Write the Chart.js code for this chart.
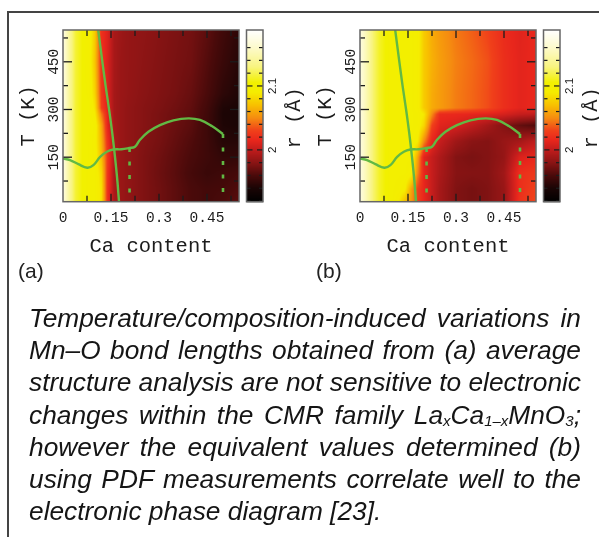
<!DOCTYPE html>
<html><head><meta charset="utf-8">
<script src="https://cdn.jsdelivr.net/npm/chart.js@4"></script>
<style>
html,body{margin:0;padding:0;background:#fff;width:599px;height:537px;overflow:hidden}
#page{position:relative;width:599px;height:537px;overflow:hidden;filter:blur(.4px)}
canvas{position:absolute}
#top{position:absolute;left:7px;top:11px;width:592px;height:2px;background:#444}
#lft{position:absolute;left:7px;top:11px;width:2px;height:526px;background:#444}
.tag{position:absolute;font:21px "Liberation Sans";color:#222}
#cap{position:absolute;left:29px;top:302px;width:552px;font:italic 26.3px/32.2px "Liberation Sans";color:#151515}
#cap div{white-space:nowrap}
sub{font-size:15px;line-height:0;vertical-align:-2px}
</style></head><body><div id="page">
<div id="top"></div><div id="lft"></div>
<canvas id="a" style="left:0;top:12px"></canvas>
<canvas id="ca" style="left:240px;top:12px"></canvas>
<canvas id="b" style="left:297px;top:12px"></canvas>
<canvas id="cb" style="left:537px;top:12px"></canvas>
<div class="tag" style="left:18px;top:259px">(a)</div>
<div class="tag" style="left:316px;top:259px">(b)</div>
<div id="cap">
<div class="fit"><span>Temperature/composition-induced variations in</span></div>
<div class="fit"><span>Mn–O bond lengths obtained from (a) average</span></div>
<div class="fit"><span>structure analysis are not sensitive to electronic</span></div>
<div class="fit"><span>changes within the CMR family La<sub>x</sub>Ca<sub>1–x</sub>MnO<sub>3</sub>;</span></div>
<div class="fit"><span>however the equivalent values determined (b)</span></div>
<div class="fit"><span>using PDF measurements correlate well to the</span></div>
<div><span>electronic phase diagram [23].</span></div>
</div>
</div>
<script>
const caContent=[0,0.02,0.04,0.06,0.08,0.1,0.12,0.14,0.16,0.18,0.2,0.225,0.25,0.3,0.35,0.4,0.45,0.5,0.55];
const temperature=[10,50,100,150,200,250,285,305,350,450,550];
const bondA=[
[2.17,2.14,2.115,2.105,2.102,2.100,2.085,2.020,1.992,1.986,1.983,1.980,1.977,1.972,1.966,1.960,1.957,1.960,1.965],
[2.17,2.14,2.115,2.105,2.102,2.100,2.085,2.020,1.992,1.986,1.983,1.980,1.977,1.972,1.966,1.960,1.957,1.958,1.962],
[2.17,2.14,2.115,2.105,2.102,2.100,2.080,2.022,1.992,1.986,1.983,1.980,1.977,1.971,1.965,1.958,1.953,1.955,1.958],
[2.17,2.14,2.115,2.105,2.103,2.097,2.070,2.025,1.994,1.986,1.983,1.980,1.977,1.972,1.966,1.960,1.955,1.950,1.950],
[2.17,2.14,2.115,2.105,2.103,2.095,2.065,2.020,1.992,1.986,1.983,1.981,1.978,1.974,1.968,1.962,1.955,1.945,1.945],
[2.17,2.14,2.115,2.105,2.105,2.098,2.060,2.012,1.991,1.986,1.983,1.981,1.979,1.975,1.970,1.965,1.955,1.942,1.940],
[2.17,2.14,2.115,2.105,2.105,2.090,2.045,2.012,1.990,1.986,1.983,1.981,1.979,1.975,1.971,1.966,1.956,1.941,1.940],
[2.17,2.14,2.115,2.105,2.104,2.085,2.030,2.010,1.990,1.986,1.983,1.981,1.979,1.976,1.972,1.967,1.957,1.942,1.940],
[2.17,2.14,2.115,2.105,2.102,2.078,2.026,2.008,1.990,1.986,1.984,1.982,1.980,1.977,1.974,1.969,1.960,1.948,1.942],
[2.17,2.14,2.115,2.105,2.100,2.072,2.022,2.008,1.991,1.986,1.984,1.983,1.981,1.978,1.975,1.972,1.963,1.953,1.945],
[2.17,2.14,2.115,2.105,2.100,2.075,2.022,2.010,1.991,1.987,1.984,1.983,1.982,1.979,1.976,1.973,1.966,1.956,1.948]];
const bondB=[
[2.17,2.15,2.128,2.113,2.105,2.100,2.090,2.070,2.055,2.030,2.015,2.002,1.990,1.977,1.974,1.977,1.985,2.022,2.032],
[2.17,2.15,2.128,2.113,2.105,2.100,2.098,2.092,2.060,2.030,2.015,2.002,1.990,1.977,1.974,1.977,1.985,2.020,2.030],
[2.17,2.15,2.128,2.113,2.105,2.100,2.100,2.100,2.095,2.050,2.015,2.002,1.992,1.979,1.978,1.978,1.988,2.020,2.025],
[2.17,2.15,2.128,2.113,2.105,2.100,2.100,2.100,2.100,2.060,2.012,2.002,1.993,1.978,1.975,1.978,1.984,2.010,2.015],
[2.17,2.15,2.128,2.113,2.105,2.100,2.100,2.100,2.100,2.090,2.050,2.015,2.002,1.988,1.980,1.978,1.985,1.990,2.000],
[2.17,2.15,2.128,2.113,2.105,2.100,2.100,2.100,2.100,2.098,2.080,2.030,2.012,2.008,2.000,1.990,1.978,1.968,1.962],
[2.17,2.15,2.128,2.113,2.105,2.100,2.100,2.100,2.100,2.098,2.088,2.050,2.018,2.016,2.014,2.012,2.008,2.002,2.000],
[2.17,2.15,2.128,2.113,2.105,2.100,2.100,2.100,2.100,2.095,2.075,2.062,2.056,2.046,2.040,2.033,2.020,2.013,2.016],
[2.17,2.15,2.128,2.113,2.105,2.100,2.100,2.100,2.100,2.095,2.075,2.062,2.056,2.046,2.040,2.033,2.020,2.013,2.016],
[2.17,2.15,2.128,2.113,2.105,2.100,2.100,2.100,2.100,2.095,2.075,2.064,2.057,2.047,2.041,2.034,2.020,2.013,2.016],
[2.17,2.15,2.128,2.113,2.105,2.100,2.100,2.100,2.100,2.095,2.075,2.062,2.055,2.045,2.038,2.030,2.018,2.012,2.016]];
const cmapValues=[1.919,1.94,1.96,1.98,2.00,2.015,2.03,2.05,2.07,2.09,2.105,2.13,2.16,2.1875];
const cmapColors=[[0,0,0],[26,5,5],[74,10,10],[138,20,20],[192,28,28],[232,38,28],[240,64,26],[245,140,16],[248,192,0],[245,236,0],[242,240,0],[248,244,128],[253,250,204],[255,255,255]];
const ferroX=[0.11,0.123,0.133,0.144,0.154,0.1625,0.17,0.175];
const ferroT=[550,450,375,300,225,150,75,10];
const domeX=[0,0.022,0.048,0.076,0.095,0.116,0.137,0.157,0.183,0.207,0.225,0.24,0.267,0.303,0.345,0.392,0.428,0.465,0.5];
const domeT=[146,141,128,117,125,151,167,174,175,179,183,204,230,251,266,272,267,248,223];
const dropX1=[0.208,0.208];const dropT1=[179,10];
const dropX2=[0.5,0.5];const dropT2=[223,10];
const xMajor=[0,0.15,0.3,0.45];const xMinor=[0.075,0.225,0.375,0.525];
const yMajor=[150,300,450];const yMinor=[75,225,375,525];
const cbMajor=[2,2.1];const cbMinor=[1.92,1.94,1.96,1.98,2.02,2.04,2.06,2.08,2.12,2.14,2.16];

const MONO='"Liberation Mono"',INK='#1c1c1c',GREEN='#62b944',EDGE='#666';
function idx(arr,v){let i=0;while(i<arr.length-2&&v>arr[i+1])i++;return i;}
function colorAt(v){
  const i=idx(cmapValues,v);let t=(v-cmapValues[i])/(cmapValues[i+1]-cmapValues[i]);t=Math.max(0,Math.min(1,t));
  return cmapColors[i].map((c,k)=>c+(cmapColors[i+1][k]-c)*t);
}
function gridAt(g,x,y){
  const i=idx(caContent,x),j=idx(temperature,y);
  const tx=Math.max(0,Math.min(1,(x-caContent[i])/(caContent[i+1]-caContent[i])));
  const ty=Math.max(0,Math.min(1,(y-temperature[j])/(temperature[j+1]-temperature[j])));
  return (g[j][i]*(1-tx)+g[j][i+1]*tx)*(1-ty)+(g[j+1][i]*(1-tx)+g[j+1][i+1]*tx)*ty;
}
const heat=grid=>({id:'heat',beforeDatasetsDraw(c){
  const a=c.chartArea,w=Math.round(a.right-a.left),h=Math.round(a.bottom-a.top);
  const o=document.createElement('canvas');o.width=w;o.height=h;const x=o.getContext('2d'),im=x.createImageData(w,h);
  for(let py=0;py<h;py++)for(let px=0;px<w;px++){
    const col=colorAt(gridAt(grid,c.scales.x.getValueForPixel(a.left+px+.5),c.scales.y.getValueForPixel(a.top+py+.5)));
    const n=(py*w+px)*4;im.data[n]=col[0];im.data[n+1]=col[1];im.data[n+2]=col[2];im.data[n+3]=255;}
  x.putImageData(im,0,0);c.ctx.drawImage(o,a.left,a.top,a.right-a.left,a.bottom-a.top);
}});
function tick(ctx,x0,y0,x1,y1){ctx.beginPath();ctx.moveTo(x0,y0);ctx.lineTo(x1,y1);ctx.stroke();}
const frame={id:'frame',afterDatasetsDraw(c){
  const a=c.chartArea,ctx=c.ctx,X=c.scales.x,Y=c.scales.y;ctx.save();ctx.strokeStyle=INK;ctx.lineWidth=1.3;
  for(const [vals,l] of [[xMajor,8],[xMinor,6]])for(const v of vals){const p=X.getPixelForValue(v);if(v===0)continue;tick(ctx,p,a.bottom,p,a.bottom-l);tick(ctx,p,a.top,p,a.top+l);}
  for(const [vals,l] of [[yMajor,9],[yMinor,5]])for(const v of vals){const p=Y.getPixelForValue(v);tick(ctx,a.left,p,a.left+l,p);tick(ctx,a.right,p,a.right-l,p);}
  ctx.strokeStyle=EDGE;ctx.lineWidth=1.5;ctx.strokeRect(a.left,a.top,a.right-a.left,a.bottom-a.top);ctx.restore();
}};
function pts(xs,ys){return xs.map((x,i)=>({x,y:ys[i]}));}
function panel(id,grid){
  const cv=document.getElementById(id);
  new Chart(cv,{type:'scatter',data:{datasets:[
    {data:pts(ferroX,ferroT),showLine:true,pointRadius:0,borderColor:GREEN,borderWidth:2.4,tension:.3},
    {data:pts(domeX,domeT),showLine:true,pointRadius:0,borderColor:GREEN,borderWidth:2.4,tension:.4},
    {data:pts(dropX1,dropT1),showLine:true,pointRadius:0,borderColor:GREEN,borderWidth:2.6,borderDash:[4,9.5]},
    {data:pts(dropX2,dropT2),showLine:true,pointRadius:0,borderColor:GREEN,borderWidth:2.6,borderDash:[4,9.5]}
  ]},plugins:[heat(grid),frame],options:{responsive:false,animation:false,events:[],
    layout:{padding:{left:0,right:61,top:18,bottom:0}},
    plugins:{legend:{display:false},tooltip:{enabled:false}},
    scales:{
      x:{type:'linear',min:0,max:0.55,grid:{display:false},border:{display:false},
        afterBuildTicks(s){s.ticks=xMajor.map(v=>({value:v}));},
        afterFit(s){s.height=80.3;},
        ticks:{font:{family:MONO,size:14.5},color:INK,padding:0,maxRotation:0,minRotation:0,callback:v=>String(v)},
        title:{display:true,text:'Ca content',font:{family:MONO,size:20.5},color:INK,padding:{top:4,bottom:23}}},
      y:{type:'linear',min:10,max:550,grid:{display:false},border:{display:false},
        afterBuildTicks(s){s.ticks=yMajor.map(v=>({value:v}));},
        afterFit(s){s.width=63;},
        ticks:{font:{family:MONO,size:14.5},color:INK,padding:-12.5,minRotation:90,maxRotation:90,crossAlign:'center',callback:v=>String(v)},
        title:{display:true,text:'T (K)',font:{family:MONO,size:20.5},color:INK,padding:{top:16,bottom:0}}}
    }}});
}
const cbar={id:'cbar',beforeDatasetsDraw(c){
  const a=c.chartArea,ctx=c.ctx,Y=c.scales.y;
  for(let p=a.top;p<a.bottom;p++){const col=colorAt(Y.getValueForPixel(p+.5)).map(Math.round);ctx.fillStyle=`rgb(${col})`;ctx.fillRect(a.left,p,a.right-a.left,1.2);}
},afterDatasetsDraw(c){
  const a=c.chartArea,ctx=c.ctx,Y=c.scales.y;ctx.save();ctx.strokeStyle=INK;ctx.lineWidth=1.2;
  for(const [vals,l] of [[cbMajor,6],[cbMinor,4]])for(const v of vals){const p=Y.getPixelForValue(v);tick(ctx,a.left,p,a.left+l,p);tick(ctx,a.right,p,a.right-l,p);}
  ctx.strokeStyle=EDGE;ctx.lineWidth=1.5;ctx.strokeRect(a.left,a.top,a.right-a.left,a.bottom-a.top);
  ctx.translate(a.right+32,(a.top+a.bottom)/2+2);ctx.rotate(-Math.PI/2);ctx.font='20.5px '+MONO;ctx.fillStyle=INK;ctx.textAlign='center';ctx.textBaseline='middle';ctx.fillText('r (Å)',0,0);ctx.restore();
}};
function colorbar(id){
  new Chart(document.getElementById(id),{type:'scatter',data:{datasets:[]},plugins:[cbar],options:{responsive:false,animation:false,events:[],
    layout:{padding:{left:6.5,right:0,top:18,bottom:80.3}},
    plugins:{legend:{display:false},tooltip:{enabled:false}},
    scales:{
      x:{type:'linear',display:false,min:0,max:1},
      y:{type:'linear',position:'right',min:1.919,max:2.1875,grid:{display:false},border:{display:false},
        afterBuildTicks(s){s.ticks=cbMajor.map(v=>({value:v}));},
        afterFit(s){s.width=47;},
        ticks:{font:{family:'Liberation Sans',size:11.5},color:INK,padding:-6,minRotation:90,maxRotation:90,crossAlign:'center',callback:v=>String(v)}}
    }}});
}
for(const id of ['a','b']){const c=document.getElementById(id);c.width=300;c.height=270;}
for(const id of ['ca','cb']){const c=document.getElementById(id);c.width=70;c.height=270;}
panel('a',bondA);panel('b',bondB);colorbar('ca');colorbar('cb');
for(const d of document.querySelectorAll('#cap .fit')){
  const s=d.firstElementChild,gaps=(s.textContent.match(/ /g)||[]).length;
  d.style.wordSpacing=((552-s.getBoundingClientRect().width)/gaps)+'px';
}
</script></body></html>
